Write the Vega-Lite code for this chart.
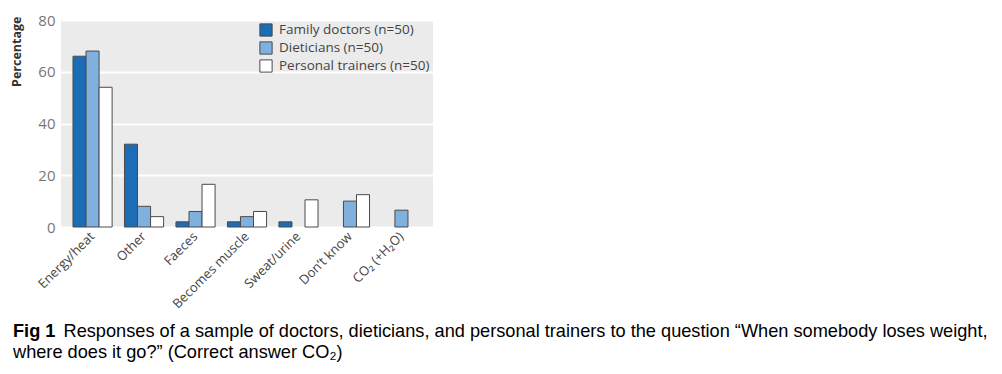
{
  "$schema": "https://vega.github.io/schema/vega-lite/v6.json",
  "autosize": "none",
  "width": 372,
  "height": 207,
  "padding": {"left": 61, "top": 20, "right": 569, "bottom": 147},
  "background": "white",
  "data": {
    "values": [
      {"answer": "Energy/heat", "group": "Family doctors (n=50)", "pct": 66},
      {"answer": "Energy/heat", "group": "Dieticians (n=50)", "pct": 68},
      {"answer": "Energy/heat", "group": "Personal trainers (n=50)", "pct": 54},
      {"answer": "Other", "group": "Family doctors (n=50)", "pct": 32},
      {"answer": "Other", "group": "Dieticians (n=50)", "pct": 8},
      {"answer": "Other", "group": "Personal trainers (n=50)", "pct": 4},
      {"answer": "Faeces", "group": "Family doctors (n=50)", "pct": 2},
      {"answer": "Faeces", "group": "Dieticians (n=50)", "pct": 6},
      {"answer": "Faeces", "group": "Personal trainers (n=50)", "pct": 16.5},
      {"answer": "Becomes muscle", "group": "Family doctors (n=50)", "pct": 2},
      {"answer": "Becomes muscle", "group": "Dieticians (n=50)", "pct": 4},
      {"answer": "Becomes muscle", "group": "Personal trainers (n=50)", "pct": 6},
      {"answer": "Sweat/urine", "group": "Family doctors (n=50)", "pct": 2},
      {"answer": "Sweat/urine", "group": "Personal trainers (n=50)", "pct": 10.5},
      {"answer": "Don’t know", "group": "Dieticians (n=50)", "pct": 10},
      {"answer": "Don’t know", "group": "Personal trainers (n=50)", "pct": 12.5},
      {"answer": "CO₂ (+H₂O)", "group": "Dieticians (n=50)", "pct": 6.5}
    ]
  },
  "mark": {"type": "bar", "stroke": "#4a4a4a", "strokeWidth": 1},
  "encoding": {
    "x": {
      "field": "answer",
      "type": "nominal",
      "sort": ["Energy/heat", "Other", "Faeces", "Becomes muscle", "Sweat/urine", "Don’t know", "CO₂ (+H₂O)"],
      "scale": {"paddingInner": 0.24, "paddingOuter": 0.233},
      "axis": {
        "title": null,
        "labelAngle": -45,
        "labelAlign": "right",
        "labelBaseline": "middle",
        "labelPadding": 7,
        "labelFont": "Open Sans",
        "labelFontSize": 13,
        "labelColor": "#444",
        "domain": false,
        "ticks": false,
        "grid": false
      }
    },
    "xOffset": {
      "field": "group",
      "type": "nominal",
      "sort": ["Family doctors (n=50)", "Dieticians (n=50)", "Personal trainers (n=50)"],
      "scale": {"paddingInner": 0, "paddingOuter": 0}
    },
    "y": {
      "field": "pct",
      "type": "quantitative",
      "scale": {"domain": [0, 80]},
      "axis": {
        "title": "Percentage",
        "titleFont": "Open Sans",
        "titleFontSize": 12.5,
        "titleFontWeight": "bold",
        "titleColor": "#333",
        "titleAnchor": "end",
        "titlePadding": 14,
        "titleY": -4,
        "values": [0, 20, 40, 60, 80],
        "labelFont": "Open Sans",
        "labelFontSize": 15,
        "labelColor": "#777",
        "labelPadding": 6,
        "domain": false,
        "ticks": false,
        "grid": true,
        "gridColor": "white",
        "gridWidth": 2
      }
    },
    "color": {
      "field": "group",
      "type": "nominal",
      "scale": {
        "domain": ["Family doctors (n=50)", "Dieticians (n=50)", "Personal trainers (n=50)"],
        "range": ["#1d6db6", "#80b1de", "#ffffff"]
      },
      "legend": {
        "title": null,
        "orient": "none",
        "legendX": 198,
        "legendY": 3,
        "symbolType": "square",
        "symbolSize": 150,
        "symbolStrokeColor": "#4a4a4a",
        "symbolStrokeWidth": 1,
        "labelFont": "Open Sans",
        "labelFontSize": 13.5,
        "labelColor": "#444",
        "labelOffset": 6,
        "rowPadding": 0
      }
    }
  },
  "title": {
    "text": "Fig 1",
    "subtitle": ["\u200b\u00a0\u00a0\u00a0\u00a0\u00a0\u00a0\u00a0\u00a0\u00a0\u00a0Responses of a sample of doctors, dieticians, and personal trainers to the question “When somebody loses weight,", "where does it go?” (Correct answer CO₂)"],
    "orient": "bottom",
    "anchor": "start",
    "frame": "group",
    "dx": -48,
    "offset": 12,
    "font": "Liberation Sans",
    "fontSize": 18.2,
    "fontWeight": "bold",
    "color": "#000",
    "subtitleFont": "Liberation Sans",
    "subtitleFontSize": 18.2,
    "subtitleColor": "#000",
    "subtitleLineHeight": 21,
    "subtitlePadding": -18.2
  },
  "config": {
    "view": {"fill": "#ebebeb", "stroke": null}
  }
}
